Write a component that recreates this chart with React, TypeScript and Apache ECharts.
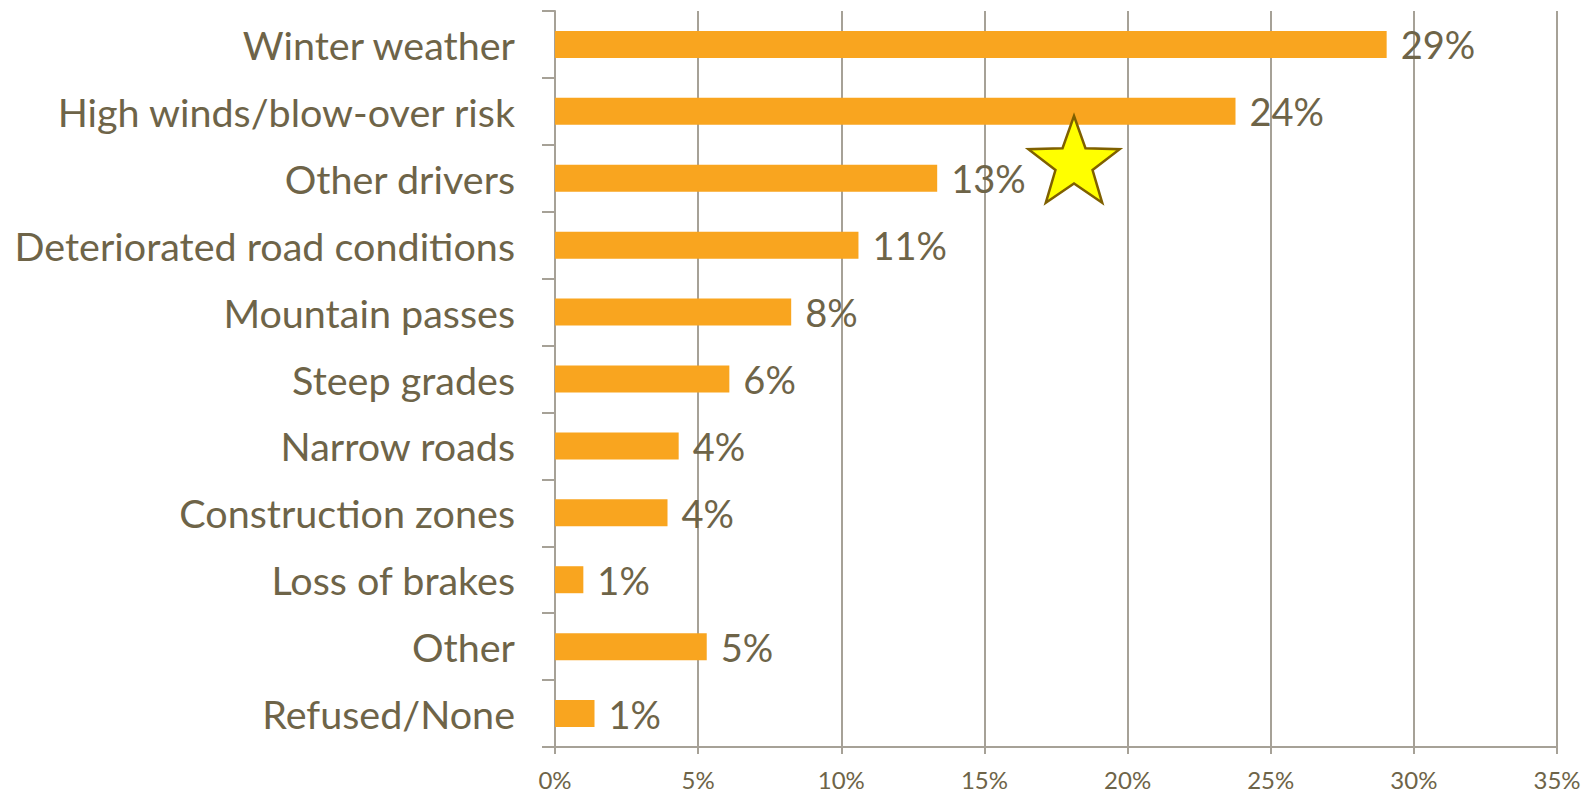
import React, { useEffect, useRef } from "react";
import * as echarts from "echarts";

const categories = [
  "Winter weather",
  "High winds/blow-over risk",
  "Other drivers",
  "Deteriorated road conditions",
  "Mountain passes",
  "Steep grades",
  "Narrow roads",
  "Construction zones",
  "Loss of brakes",
  "Other",
  "Refused/None",
];
const values = [29.05, 23.77, 13.35, 10.6, 8.25, 6.09, 4.32, 3.93, 0.99, 5.3, 1.38];
const xMin = 0;
const xMax = 35;
const xInterval = 5;

const TEXT = "#6E6448";
const GRID = "#A6A197";
const BAR = "#F9A51F";
const FONT = "Lato, 'Open Sans', sans-serif";

function starPoints(cx: number, cy: number, R: number, r: number) {
  const pts: number[][] = [];
  for (let i = 0; i < 10; i++) {
    const rad = i % 2 === 0 ? R : r;
    const a = (Math.PI / 5) * i - Math.PI / 2;
    pts.push([cx + rad * Math.cos(a), cy + rad * Math.sin(a)]);
  }
  return pts;
}

export default function App() {
  const ref = useRef<HTMLDivElement>(null);
  useEffect(() => {
    if (!ref.current) return;
    const chart = echarts.init(ref.current, undefined, { renderer: "svg" });
    chart.setOption({
      animation: false,
      backgroundColor: "#ffffff",
      grid: { left: 555, right: 33, top: 11, bottom: 45 },
      xAxis: {
        type: "value",
        min: xMin,
        max: xMax,
        interval: xInterval,
        axisLine: { show: true, lineStyle: { color: GRID, width: 2 } },
        axisTick: { show: true, length: 7, lineStyle: { color: GRID, width: 2 } },
        splitLine: { show: true, lineStyle: { color: GRID, width: 2 } },
        axisLabel: {
          formatter: "{value}%",
          color: TEXT,
          fontSize: 24,
          fontFamily: FONT,
          margin: 20,
        },
      },
      yAxis: {
        type: "category",
        data: categories,
        inverse: true,
        axisLine: { show: true, lineStyle: { color: GRID, width: 2 } },
        axisTick: { show: true, length: 13, lineStyle: { color: GRID, width: 2 } },
        splitLine: { show: false },
        axisLabel: {
          color: TEXT,
          fontSize: 39.5,
          fontFamily: FONT,
          margin: 40,
        },
      },
      series: [
        {
          type: "bar",
          data: values,
          barWidth: 27,
          itemStyle: { color: BAR },
          label: {
            show: true,
            position: "right",
            distance: 14,
            color: TEXT,
            fontSize: 38,
            fontFamily: FONT,
            formatter: (p: any) => Math.round(p.value) + "%",
          },
        },
      ],
      graphic: [
        {
          type: "polygon",
          shape: { points: starPoints(1074, 164, 48, 19.5) },
          style: { fill: "#FFFF00", stroke: "#7F6000", lineWidth: 2.5 },
          z: 100,
        },
      ],
    });
    return () => chart.dispose();
  }, []);
  return (
    <div
      ref={ref}
      style={{ position: "absolute", left: 0, top: 0, width: 1590, height: 792 }}
    />
  );
}
